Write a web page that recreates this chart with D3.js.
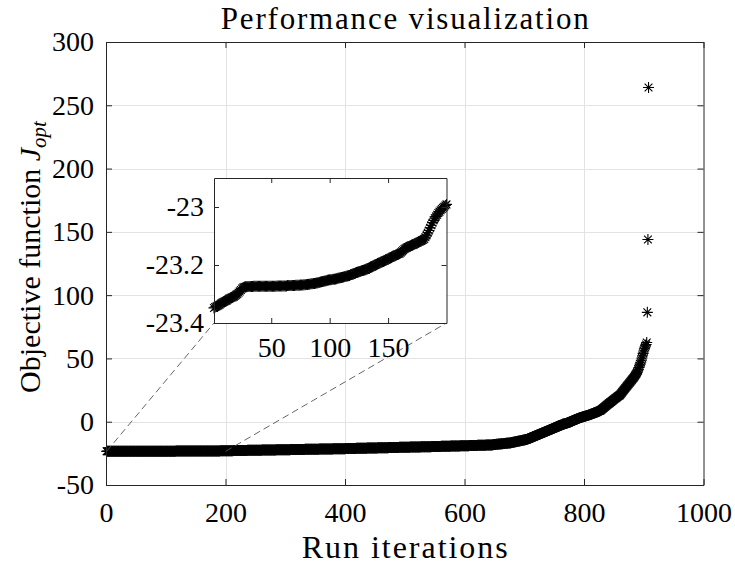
<!DOCTYPE html>
<html>
<head>
<meta charset="utf-8">
<script src="https://cdn.jsdelivr.net/npm/d3@7/dist/d3.min.js"></script>
<style>
  html, body { margin: 0; padding: 0; background: #fff; }
  svg { display: block; }
  text { font-family: "Liberation Serif", "Times New Roman", serif; fill: #000; }
</style>
</head>
<body>
<svg id="chart" width="735" height="570"></svg>
<script>
// Sorted objective values J_opt for every run (run index = position + 1)
const runsEarly = [
  -23.348,-23.345,-23.343,-23.341,-23.339,-23.336,-23.333,-23.330,-23.328,-23.326,
  -23.324,-23.322,-23.319,-23.316,-23.314,-23.312,-23.311,-23.309,-23.306,-23.303,
  -23.300,-23.296,-23.291,-23.286,-23.281,-23.278,-23.276,-23.275,-23.275,-23.274,
  -23.274,-23.274,-23.274,-23.274,-23.273,-23.273,-23.273,-23.273,-23.273,-23.273,
  -23.273,-23.273,-23.273,-23.273,-23.273,-23.273,-23.273,-23.273,-23.273,-23.273,
  -23.273,-23.273,-23.273,-23.273,-23.272,-23.272,-23.272,-23.272,-23.272,-23.272,
  -23.272,-23.272,-23.272,-23.271,-23.271,-23.271,-23.271,-23.271,-23.271,-23.271,
  -23.270,-23.270,-23.270,-23.270,-23.269,-23.269,-23.269,-23.268,-23.268,-23.267,
  -23.267,-23.266,-23.266,-23.265,-23.265,-23.264,-23.264,-23.263,-23.262,-23.261,
  -23.260,-23.259,-23.258,-23.257,-23.256,-23.255,-23.254,-23.253,-23.252,-23.251,
  -23.251,-23.250,-23.249,-23.249,-23.248,-23.247,-23.246,-23.245,-23.244,-23.243,
  -23.242,-23.241,-23.240,-23.239,-23.238,-23.237,-23.236,-23.234,-23.233,-23.231,
  -23.229,-23.228,-23.226,-23.225,-23.223,-23.222,-23.220,-23.219,-23.218,-23.217,
  -23.216,-23.214,-23.212,-23.210,-23.208,-23.206,-23.204,-23.202,-23.200,-23.198,
  -23.196,-23.194,-23.192,-23.190,-23.189,-23.187,-23.185,-23.183,-23.181,-23.179,
  -23.177,-23.175,-23.173,-23.171,-23.169,-23.167,-23.165,-23.163,-23.162,-23.160,
  -23.157,-23.153,-23.149,-23.145,-23.142,-23.140,-23.138,-23.136,-23.134,-23.132,
  -23.131,-23.129,-23.127,-23.125,-23.123,-23.121,-23.119,-23.117,-23.115,-23.113,
  -23.110,-23.104,-23.097,-23.089,-23.081,-23.072,-23.063,-23.054,-23.046,-23.039,
  -23.033,-23.027,-23.021,-23.016,-23.011,-23.007,-23.003,-22.999,-22.995,-22.991
];

const runsMiddle = [
  -22.9,-22.9,-22.9,-22.9,-22.9,-22.9,-22.9,-22.9,-22.9,-22.9,-22.9,-22.9,
  -22.8,-22.8,-22.8,-22.8,-22.8,-22.8,-22.8,-22.8,-22.8,-22.8,-22.8,-22.8,
  -22.7,-22.7,-22.7,-22.7,-22.7,-22.7,-22.7,-22.7,-22.7,-22.7,-22.7,-22.7,
  -22.6,-22.6,-22.6,-22.6,-22.6,-22.6,-22.6,-22.6,-22.6,-22.6,-22.6,-22.6,
  -22.5,-22.5,-22.5,-22.5,-22.5,-22.5,-22.5,-22.5,-22.5,-22.5,-22.5,-22.5,
  -22.4,-22.4,-22.4,-22.4,-22.4,-22.4,-22.4,-22.4,-22.4,-22.4,-22.4,-22.4,
  -22.3,-22.3,-22.3,-22.3,-22.3,-22.3,-22.3,-22.3,-22.3,-22.3,-22.3,-22.3,
  -22.2,-22.2,-22.2,-22.2,-22.2,-22.2,-22.2,-22.2,-22.2,-22.2,-22.2,-22.2,
  -22.1,-22.1,-22.1,-22.1,-22.1,-22.1,-22.1,-22.1,-22.1,-22.1,-22.1,-22.1,
  -22.0,-22.0,-22.0,-22.0,-22.0,-22.0,-22.0,-22.0,-22.0,-22.0,-22.0,-22.0,
  -21.9,-21.9,-21.9,-21.9,-21.9,-21.9,-21.9,-21.9,-21.9,-21.9,-21.9,-21.9,
  -21.8,-21.8,-21.8,-21.8,-21.8,-21.8,-21.8,-21.8,-21.8,-21.8,-21.8,-21.8,
  -21.7,-21.7,-21.7,-21.7,-21.7,-21.7,-21.7,-21.7,-21.7,-21.7,-21.7,-21.7,
  -21.6,-21.6,-21.6,-21.6,-21.6,-21.6,-21.6,-21.6,-21.6,-21.6,-21.6,-21.6,
  -21.5,-21.5,-21.5,-21.5,-21.5,-21.5,-21.5,-21.5,-21.5,-21.5,-21.5,
  -21.4,-21.4,-21.4,-21.4,-21.4,-21.4,-21.4,-21.4,-21.4,-21.4,-21.4,
  -21.3,-21.3,-21.3,-21.3,-21.3,-21.3,-21.3,-21.3,-21.3,-21.3,
  -21.2,-21.2,-21.2,-21.2,-21.2,-21.2,-21.2,-21.2,-21.2,
  -21.1,-21.1,-21.1,-21.1,-21.1,-21.1,-21.1,-21.1,-21.1,
  -21.0,-21.0,-21.0,-21.0,-21.0,-21.0,-21.0,-21.0,-21.0,
  -20.9,-20.9,-20.9,-20.9,-20.9,-20.9,-20.9,-20.9,-20.9,
  -20.8,-20.8,-20.8,-20.8,-20.8,-20.8,-20.8,-20.8,-20.8,
  -20.7,-20.7,-20.7,-20.7,-20.7,-20.7,-20.7,-20.7,-20.7,
  -20.6,-20.6,-20.6,-20.6,-20.6,-20.6,-20.6,-20.6,-20.6,
  -20.5,-20.5,-20.5,-20.5,-20.5,-20.5,-20.5,-20.5,-20.5,
  -20.4,-20.4,-20.4,-20.4,-20.4,-20.4,-20.4,-20.4,-20.4,
  -20.3,-20.3,-20.3,-20.3,-20.3,-20.3,-20.3,-20.3,-20.3,
  -20.2,-20.2,-20.2,-20.2,-20.2,-20.2,-20.2,-20.2,-20.2,
  -20.1,-20.1,-20.1,-20.1,-20.1,-20.1,-20.1,-20.1,-20.1,
  -20.0,-20.0,-20.0,-20.0,-20.0,-20.0,-20.0,-20.0,-20.0,
  -19.9,-19.9,-19.9,-19.9,-19.9,-19.9,-19.9,-19.9,-19.9,
  -19.8,-19.8,-19.8,-19.8,-19.8,-19.8,-19.8,-19.8,-19.8,
  -19.7,-19.7,-19.7,-19.7,-19.7,-19.7,-19.7,-19.7,-19.7,
  -19.6,-19.6,-19.6,-19.6,-19.6,-19.6,-19.6,-19.6,
  -19.5,-19.5,-19.5,-19.5,-19.5,-19.5,-19.5,-19.5,
  -19.4,-19.4,-19.4,-19.4,-19.4,-19.4,-19.4,-19.4,
  -19.3,-19.3,-19.3,-19.3,-19.3,-19.3,-19.3,-19.3,
  -19.2,-19.2,-19.2,-19.2,-19.2,-19.2,-19.2,-19.2,
  -19.1,-19.1,-19.1,-19.1,-19.1,-19.1,-19.1,-19.1,
  -19.0,-19.0,-19.0,-19.0,-19.0,-19.0,-19.0,-19.0,
  -18.9,-18.9,-18.9,-18.9,-18.9,-18.9,-18.9,
  -18.8,-18.8,-18.8,-18.8,-18.8,-18.8,-18.8,
  -18.7,-18.7,-18.7,-18.7,-18.7,-18.7,-18.7,
  -18.6,-18.6,-18.6,-18.6,-18.6,-18.6,-18.6,
  -18.5,-18.5,-18.5,-18.5,-18.5,-18.5,-18.5,
  -18.4,-18.4,-18.4,-18.4,-18.4,-18.4,-18.4,-18.4,
  -18.3,-18.3,-18.3,-18.2,-18.2,-18.1,-18.1,-18.0,-18.0,-17.9,-17.9,
  -17.8,-17.8,-17.7,-17.7,-17.6,-17.6,-17.5,-17.5,-17.4,-17.4,
  -17.3,-17.3,-17.2,-17.2,-17.1,-17.1,-17.0,-17.0,-16.9,-16.9,-16.8,-16.8
];

const runsLate = [
  -16.7,-16.6,-16.5,-16.4,-16.3,-16.2,-16.1,-16.0,-15.9,-15.8,
  -15.7,-15.6,-15.5,-15.4,-15.3,-15.2,-15.1,-15.0,-14.9,-14.8,
  -14.7,-14.6,-14.5,-14.4,-14.3,-14.2,-14.1,-14.0,-13.9,
  -13.7,-13.5,-13.3,-13.1,-12.9,-12.7,-12.5,-12.3,-12.1,-11.9,
  -11.7,-11.5,-11.3,-11.1,-10.9,-10.7,-10.5,-10.3,-10.1,-9.9,
  -9.7,-9.5,-9.3,-9.1,-8.9,-8.7,-8.5,-8.3,-8.1,-7.9,
  -7.7,-7.5,-7.3,-7.1,-6.9,-6.7,-6.5,-6.3,-6.1,-5.9,
  -5.7,-5.5,-5.3,-5.1,-4.9,-4.7,-4.5,-4.3,-4.1,-3.9,
  -3.7,-3.5,-3.3,-3.1,-2.9,-2.7,-2.5,-2.3,-2.1,-1.9,
  -1.8,-1.7,-1.6,-1.5,-1.4,-1.3,
  -1.1,-0.9,-0.7,-0.5,-0.3,-0.1,0.1,0.3,0.5,0.7,
  0.9,1.1,1.3,1.5,1.7,1.9,2.1,2.3,2.5,2.7,
  2.9,3.1,3.3,3.4,3.6,3.7,3.9,4.0,
  4.1,4.3,4.4,4.6,4.7,4.9,5.0,5.2,5.3,5.5,
  5.6,5.8,5.9,6.1,6.2,6.4,6.6,6.8,7.0,7.2,
  7.4,7.6,7.8,8.0,8.2,8.4,8.6,8.7,
  9.0,9.4,9.8,10.2,10.6,11.0,11.4,11.8,12.2,12.6,
  13.0,13.4,13.8,14.2,14.5,14.9,15.3,15.6,16.0,16.4,
  16.8,17.2,17.5,17.9,18.3,18.6,19.0,19.4,19.7,20.1,
  20.4,20.7,21.0,
  21.6,22.2,22.8,23.4,24.0,24.6,25.2,25.8,26.4,27.0,
  27.6,28.2,28.8,29.4,30.0,30.6,31.2,31.8,32.4,33.0,
  33.6,34.2,34.8,35.4,36.1,36.8,37.5,38.2,
  39.2,40.3,41.5,42.8,44.1,45.5,47.0,48.6,50.3,52.1,54.0,55.9,57.6,59.0,
  60.0,61.0,62.6
];

const runsOutliers = [86.4, 144.0, 264.0];

// Axis ticks
const mainXTicks = [0, 200, 400, 600, 800, 1000];
const mainYTicks = [-50, 0, 50, 100, 150, 200, 250, 300];
const insetXTicks = [50, 100, 150];
const insetYTicks = [-23.4, -23.2, -23];

// Texts
const titleText = "Performance visualization";
const xLabelText = "Run iterations";
const yLabelText = "Objective function ";

// Zoom window shown in the inset
const insetXDomain = [1, 200];
const insetYDomain = [-23.4, -22.9];

const objective = runsEarly.concat(runsMiddle, runsLate, runsOutliers);
const points = objective.map((v, i) => ({ run: i + 1, value: v }));
const insetPoints = points.filter(p => p.run <= insetXDomain[1]);

const svg = d3.select("#chart");
const axisColor = "#262626";
const gridColor = "#e3e3e3";

const main = { left: 106, right: 703.5, top: 42, bottom: 485 };
const x = d3.scaleLinear().domain([0, 1000]).range([main.left, main.right]);
const y = d3.scaleLinear().domain([-50, 300]).range([main.bottom, main.top]);

const inset = { left: 214, right: 446.5, top: 178, bottom: 323 };
const xi = d3.scaleLinear().domain(insetXDomain).range([inset.left, inset.right]);
const yi = d3.scaleLinear().domain(insetYDomain).range([inset.bottom, inset.top]);

// Asterisk marker: a plus overlaid on a cross
function asterisk(r) {
  const d = r * 0.7071;
  return `M${-r},0H${r}M0,${-r}V${r}M${-d},${-d}L${d},${d}M${-d},${d}L${d},${-d}`;
}
const markerPath = asterisk(5.5);
const fmt = d => String(d);

// Main grid
const grid = svg.append("g").attr("stroke", gridColor).attr("stroke-width", 1);
grid.selectAll("line.gx").data(mainXTicks.slice(1, -1)).join("line")
  .attr("x1", d => Math.round(x(d)) + 0.5).attr("x2", d => Math.round(x(d)) + 0.5)
  .attr("y1", main.top).attr("y2", main.bottom);
grid.selectAll("line.gy").data(mainYTicks.slice(1, -1)).join("line")
  .attr("y1", d => Math.round(y(d)) + 0.5).attr("y2", d => Math.round(y(d)) + 0.5)
  .attr("x1", main.left).attr("x2", main.right);

// Main series
svg.append("g").attr("fill", "none").attr("stroke", "#000").attr("stroke-width", 1.1)
  .selectAll("path").data(points).join("path")
  .attr("transform", d => `translate(${x(d.run)},${y(d.value)})`)
  .attr("d", markerPath);

// Axes with inward ticks on all four sides
function styleAxis(g, fontSize) {
  g.select(".domain").attr("stroke", axisColor).attr("stroke-width", 1);
  g.selectAll(".tick line").attr("stroke", axisColor).attr("stroke-width", 1);
  g.selectAll(".tick text").attr("font-size", fontSize)
    .attr("font-family", '"Liberation Serif", serif').attr("fill", "#000");
}
const tickFont = 28;

svg.append("g").attr("transform", `translate(0,${main.bottom})`)
  .call(d3.axisBottom(x).tickValues(mainXTicks).tickFormat(fmt).tickSizeInner(-6).tickSizeOuter(0).tickPadding(17))
  .call(g => styleAxis(g, tickFont));
svg.append("g").attr("transform", `translate(0,${main.top})`)
  .call(d3.axisTop(x).tickValues(mainXTicks).tickFormat("").tickSizeInner(-6).tickSizeOuter(0))
  .call(g => styleAxis(g, tickFont));
svg.append("g").attr("transform", `translate(${main.left},0)`)
  .call(d3.axisLeft(y).tickValues(mainYTicks).tickFormat(fmt).tickSizeInner(-6).tickSizeOuter(0).tickPadding(12))
  .call(g => styleAxis(g, tickFont));
svg.append("g").attr("transform", `translate(${main.right},0)`)
  .call(d3.axisRight(y).tickValues(mainYTicks).tickFormat("").tickSizeInner(-6).tickSizeOuter(0))
  .call(g => styleAxis(g, tickFont));

// Connectors from the zoomed window to the inset
const connectors = [
  [[x(insetXDomain[0]), y(insetYDomain[0])], [inset.left, inset.bottom]],
  [[x(insetXDomain[1]), y(insetYDomain[0])], [inset.right, inset.bottom]]
];
svg.append("g").attr("stroke", "#555").attr("stroke-width", 0.9).attr("stroke-dasharray", "7,4")
  .selectAll("line").data(connectors).join("line")
  .attr("x1", d => d[0][0]).attr("y1", d => d[0][1])
  .attr("x2", d => d[1][0]).attr("y2", d => d[1][1]);

// Inset
svg.append("rect").attr("x", inset.left).attr("y", inset.top)
  .attr("width", inset.right - inset.left).attr("height", inset.bottom - inset.top)
  .attr("fill", "#fff");
svg.append("g").attr("fill", "none").attr("stroke", "#000").attr("stroke-width", 1.1)
  .selectAll("path").data(insetPoints).join("path")
  .attr("transform", d => `translate(${xi(d.run)},${yi(d.value)})`)
  .attr("d", markerPath);

svg.append("g").attr("transform", `translate(0,${inset.bottom})`)
  .call(d3.axisBottom(xi).tickValues(insetXTicks).tickFormat(fmt).tickSizeInner(-5).tickSizeOuter(0).tickPadding(14))
  .call(g => styleAxis(g, tickFont));
svg.append("g").attr("transform", `translate(0,${inset.top})`)
  .call(d3.axisTop(xi).tickValues(insetXTicks).tickFormat("").tickSizeInner(-5).tickSizeOuter(0))
  .call(g => styleAxis(g, tickFont));
svg.append("g").attr("transform", `translate(${inset.left},0)`)
  .call(d3.axisLeft(yi).tickValues(insetYTicks).tickFormat(fmt).tickSizeInner(-5).tickSizeOuter(0).tickPadding(10))
  .call(g => styleAxis(g, tickFont));
svg.append("g").attr("transform", `translate(${inset.right},0)`)
  .call(d3.axisRight(yi).tickValues(insetYTicks).tickFormat("").tickSizeInner(-5).tickSizeOuter(0))
  .call(g => styleAxis(g, tickFont));

// Title and axis labels
const cx = (main.left + main.right) / 2;
svg.append("text").attr("x", cx).attr("y", 29).attr("text-anchor", "middle")
  .attr("font-size", 31).attr("textLength", 368).attr("lengthAdjust", "spacing")
  .text(titleText);
svg.append("text").attr("x", cx).attr("y", 558).attr("text-anchor", "middle")
  .attr("font-size", 32).attr("textLength", 206).attr("lengthAdjust", "spacing")
  .text(xLabelText);

const yl = svg.append("text")
  .attr("transform", `translate(40,257) rotate(-90)`)
  .attr("text-anchor", "middle").attr("font-size", 30);
yl.append("tspan").text(yLabelText);
yl.append("tspan").attr("font-style", "italic").text("J");
yl.append("tspan").attr("font-style", "italic").attr("font-size", 21).attr("dy", 6).text("opt");
</script>
</body>
</html>
